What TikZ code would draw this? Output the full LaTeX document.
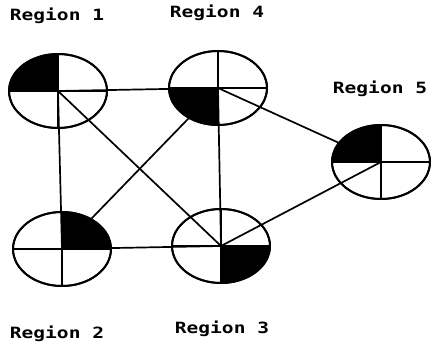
\documentclass[tikz,border=0pt]{standalone}
\usepackage{fontspec}
\newfontfamily\labelfont{DejaVu Sans Mono Bold}
\usetikzlibrary{shapes.geometric}
\tikzset{
  region/.style={ellipse, draw, line width=1.9pt, minimum width=98pt, minimum height=74pt, inner sep=0pt, outer sep=0pt},
  edge/.style={line width=1.7pt},
  cross/.style={line width=1.8pt},
  lbl/.style={font=\labelfont\fontsize{15.5}{15.5}\selectfont, inner sep=0pt}
}
\newcommand{\rlabel}[1]{\scalebox{1.26}[1]{#1}}
\begin{document}
\begin{tikzpicture}[x=1pt,y=1pt]
\useasboundingbox (0,0) rectangle (431,345);
% ellipse nodes
\node[region] (c1) at (58,254) {};
\node[region] (c4) at (218,257) {};
\node[region] (c5) at (381,183) {};
\node[region] (c2) at (62,96) {};
\node[region] (c3) at (221,99) {};
% edges
\draw[edge] (c1.center) -- (c4.center);
\draw[edge] (c1.center) -- (c2.center);
\draw[edge] (c1.center) -- (c3.center);
\draw[edge] (c4.center) -- (c2.center);
\draw[edge] (c4.center) -- (c3.center);
\draw[edge] (c4.center) -- (c5.center);
\draw[edge] (c5.center) -- (c3.center);
\draw[edge] (c2.center) -- (c3.center);
% filled quadrants
\fill (c1.center) -- (c1.north) arc[start angle=90, end angle=180, x radius=49pt, y radius=37pt] -- cycle;
\fill (c4.center) -- (c4.west) arc[start angle=180, end angle=270, x radius=49pt, y radius=37pt] -- cycle;
\fill (c5.center) -- (c5.north) arc[start angle=90, end angle=180, x radius=49pt, y radius=37pt] -- cycle;
\fill (c2.center) -- (c2.east) arc[start angle=0, end angle=90, x radius=49pt, y radius=37pt] -- cycle;
\fill (c3.center) -- (c3.south) arc[start angle=270, end angle=360, x radius=49pt, y radius=37pt] -- cycle;
% crosshairs
\foreach \c in {c1,c2,c3,c4,c5}{
  \draw[cross] (\c.north) -- (\c.south);
  \draw[cross] (\c.west) -- (\c.east);
  \node[region] at (\c.center) {};
}
% labels
\node[lbl] (l1) at (57,329) {\rlabel{Region 1}};
\node[lbl] (l4) at (217,332) {\rlabel{Region 4}};
\node[lbl] (l5) at (380,256) {\rlabel{Region 5}};
\node[lbl] (l2) at (57,11) {\rlabel{Region 2}};
\node[lbl] (l3) at (222,16) {\rlabel{Region 3}};
\end{tikzpicture}
\end{document}
